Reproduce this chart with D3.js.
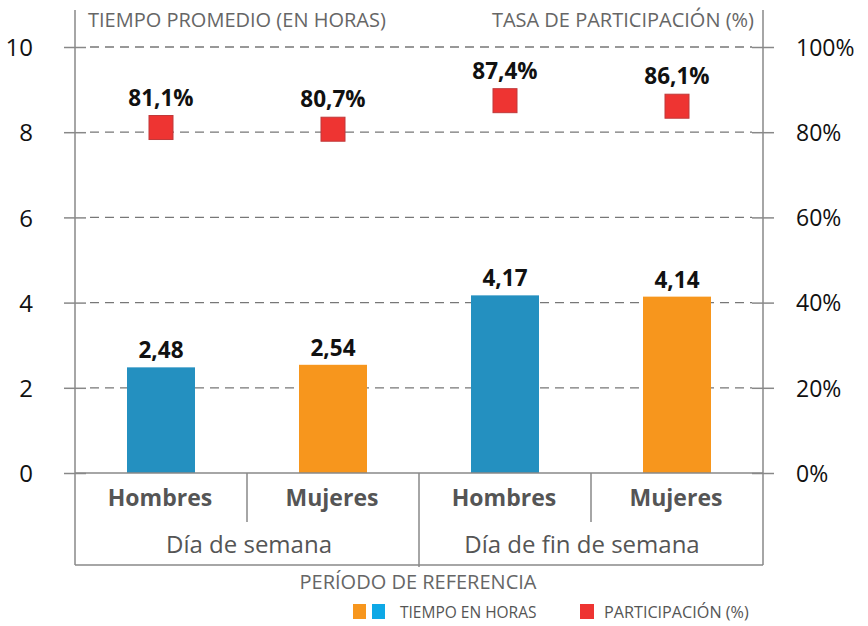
<!DOCTYPE html>
<html><head><meta charset="utf-8">
<script src="https://cdn.jsdelivr.net/npm/d3@7"></script>
<style>body{margin:0;background:#fff}svg{display:block}</style>
</head><body><svg id="c" width="868" height="626"></svg>
<script>
const groups = ["Día de semana", "Día de fin de semana"];
const sexes = ["Hombres", "Mujeres"];
const categories = ["Día de semana|Hombres", "Día de semana|Mujeres", "Día de fin de semana|Hombres", "Día de fin de semana|Mujeres"];
const hours = [2.48, 2.54, 4.17, 4.14];
const hourLabels = ["2,48", "2,54", "4,17", "4,14"];
const participation = [81.1, 80.7, 87.4, 86.1];
const partLabels = ["81,1%", "80,7%", "87,4%", "86,1%"];
const leftTicks = [0, 2, 4, 6, 8, 10];
const rightTicks = [0, 20, 40, 60, 80, 100];

const svg = d3.select("#c");
const L = 75, R = 763, T = 47, B = 473;
const x = d3.scaleBand().domain(categories).range([L, R]).paddingInner(0).paddingOuter(0);
const yL = d3.scaleLinear().domain([0, 10]).range([B, T]);
const yR = d3.scaleLinear().domain([0, 100]).range([B, T]);
const barW = 68;
const font = "'Open Sans', sans-serif";
const colors = {Hombres: "#2490c0", Mujeres: "#f7961d"};
const axisC = "#888";

// gridlines
svg.append("g").selectAll("line").data(leftTicks.filter(d => d > 0)).join("line")
  .attr("x1", L + 11).attr("x2", R - 11).attr("y1", d => yL(d)).attr("y2", d => yL(d))
  .attr("stroke", "#777").attr("stroke-width", 1.3).attr("stroke-dasharray", "9,6").attr("stroke-dashoffset", -4);

// axis ticks (solid, crossing the axis lines)
const ax1 = svg.append("g").attr("transform", `translate(${L + 11},0)`)
  .call(d3.axisLeft(yL).tickValues(leftTicks).tickSize(22).tickFormat(""));
ax1.select(".domain").remove();
ax1.selectAll("line").attr("stroke", axisC).attr("stroke-width", 1.5);
const ax2 = svg.append("g").attr("transform", `translate(${R - 11},0)`)
  .call(d3.axisRight(yR).tickValues(rightTicks).tickSize(22).tickFormat(""));
ax2.select(".domain").remove();
ax2.selectAll("line").attr("stroke", axisC).attr("stroke-width", 1.5);

// left tick labels
const gl = svg.append("g").attr("transform", `translate(36,0)`)
  .call(d3.axisLeft(yL).tickValues(leftTicks).tickSize(0).tickFormat(d3.format("d")));
gl.select(".domain").remove();
gl.selectAll("text").attr("font-family", font).attr("font-size", 24).attr("fill", "#111").attr("dx", 0).attr("dy", "0.36em");

const gr = svg.append("g").attr("transform", `translate(793,0)`)
  .call(d3.axisRight(yR).tickValues(rightTicks).tickSize(0).tickFormat(d => d + "%"));
gr.select(".domain").remove();
gr.selectAll("text").attr("font-family", font).attr("font-size", 23).attr("fill", "#111").attr("dx", 0).attr("dy", "0.36em");

// bars
svg.append("g").selectAll("rect").data(categories).join("rect")
  .attr("x", d => x(d) + x.bandwidth() / 2 - barW / 2)
  .attr("width", barW)
  .attr("y", (d, i) => yL(hours[i]))
  .attr("height", (d, i) => B - yL(hours[i]))
  .attr("fill", d => colors[d.split("|")[1]]);

svg.append("g").selectAll("text").data(categories).join("text")
  .attr("x", d => x(d) + x.bandwidth() / 2)
  .attr("y", (d, i) => yL(hours[i]) - 9)
  .attr("text-anchor", "middle").attr("font-family", font).attr("font-weight", 700)
  .attr("font-size", 22.5).attr("fill", "#111")
  .text((d, i) => hourLabels[i]);

// participation squares
const sq = 24;
svg.append("g").selectAll("rect").data(categories).join("rect")
  .attr("x", d => x(d) + x.bandwidth() / 2 - sq / 2)
  .attr("y", (d, i) => yR(participation[i]) - sq / 2)
  .attr("width", sq).attr("height", sq)
  .attr("fill", "#ee3432").attr("stroke", "#c0393a").attr("stroke-width", 1);

svg.append("g").selectAll("text").data(categories).join("text")
  .attr("x", d => x(d) + x.bandwidth() / 2)
  .attr("y", (d, i) => yR(participation[i]) - sq / 2 - 10)
  .attr("text-anchor", "middle").attr("font-family", font).attr("font-weight", 700)
  .attr("font-size", 22.5).attr("fill", "#111")
  .text((d, i) => partLabels[i]);

// axes frames
svg.append("line").attr("x1", L).attr("x2", R).attr("y1", B).attr("y2", B).attr("stroke", axisC).attr("stroke-width", 1.5);
svg.append("line").attr("x1", L).attr("x2", L).attr("y1", 10).attr("y2", 565).attr("stroke", axisC).attr("stroke-width", 1.5);
svg.append("line").attr("x1", R).attr("x2", R).attr("y1", 10).attr("y2", 565).attr("stroke", axisC).attr("stroke-width", 1.5);
svg.append("line").attr("x1", L).attr("x2", R).attr("y1", 565).attr("y2", 565).attr("stroke", axisC).attr("stroke-width", 1.5);
// separators
categories.forEach((c, i) => {
  if (i === 0) return;
  const xx = x(c);
  const full = c.split("|")[1] === "Hombres";
  svg.append("line").attr("x1", xx).attr("x2", xx).attr("y1", B).attr("y2", full ? 567 : 522)
    .attr("stroke", axisC).attr("stroke-width", 1.5);
});

// category labels
svg.append("g").selectAll("text").data(categories).join("text")
  .attr("x", d => x(d) + x.bandwidth() / 2 - 1)
  .attr("y", 506)
  .attr("text-anchor", "middle").attr("font-family", font).attr("font-weight", 700)
  .attr("font-size", 23).attr("fill", "#555")
  .text(d => d.split("|")[1]);

svg.append("g").selectAll("text").data(groups).join("text")
  .attr("x", (g, i) => i === 0 ? (L + x(categories[2])) / 2 + 2 : (x(categories[2]) + R) / 2 - 9)
  .attr("y", 553)
  .attr("text-anchor", "middle").attr("font-family", font).attr("font-weight", 400)
  .attr("font-size", 24).attr("fill", "#555")
  .text(d => d);

// headers
svg.append("text").attr("x", 88).attr("y", 27).attr("font-family", font).attr("font-size", 20)
  .attr("fill", "#666").text("TIEMPO PROMEDIO (EN HORAS)");
svg.append("text").attr("x", 754).attr("y", 27).attr("text-anchor", "end").attr("font-family", font).attr("font-size", 20)
  .attr("fill", "#666").text("TASA DE PARTICIPACIÓN (%)");
svg.append("text").attr("x", 418).attr("y", 589).attr("text-anchor", "middle").attr("font-family", font).attr("font-size", 20)
  .attr("fill", "#666").text("PERÍODO DE REFERENCIA");

// legend
const lg = svg.append("g");
lg.append("rect").attr("x", 353).attr("y", 604).attr("width", 13).attr("height", 15).attr("fill", "#f7961d");
lg.append("rect").attr("x", 372).attr("y", 604).attr("width", 13).attr("height", 15).attr("fill", "#0ea8e6");
lg.append("text").attr("x", 400).attr("y", 618).attr("font-family", font).attr("font-size", 15.5).attr("fill", "#555").text("TIEMPO EN HORAS");
lg.append("rect").attr("x", 580).attr("y", 604).attr("width", 14).attr("height", 15).attr("fill", "#ee3432");
lg.append("text").attr("x", 604).attr("y", 618).attr("font-family", font).attr("font-size", 16.2).attr("fill", "#555").text("PARTICIPACIÓN (%)");
</script></body></html>
